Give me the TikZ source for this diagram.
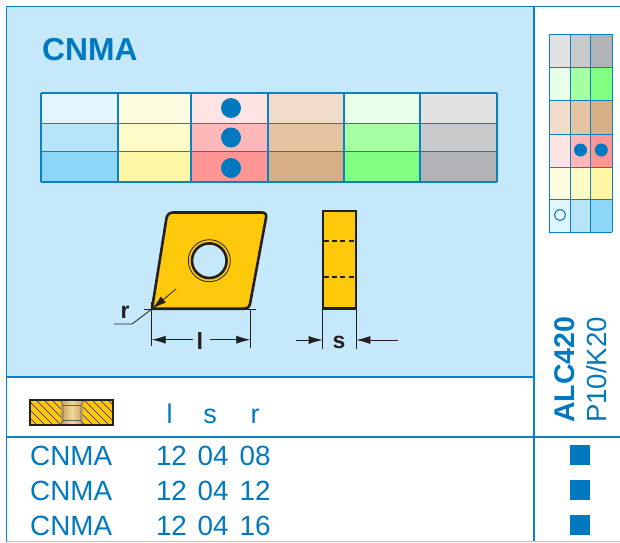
\documentclass[tikz,border=0pt]{standalone}
\usepackage{fontspec}
\setmainfont{Liberation Sans}
\usetikzlibrary{arrows.meta,patterns}
\definecolor{rule}{HTML}{0A80C8}
\definecolor{ink}{HTML}{0079C1}
\definecolor{panel}{HTML}{C5E9FA}
\definecolor{gold}{HTML}{FFC90B}
\definecolor{dark}{HTML}{231F20}
\definecolor{brassa}{HTML}{C9A05A}
\definecolor{brassb}{HTML}{F3D79E}
\tikzset{
  frameline/.style={draw=rule,line width=1.8pt},
  gridline/.style={draw=rule,line width=1.3pt},
  txt/.style={text=ink,font=\fontsize{27.8}{30}\selectfont,inner sep=0pt,anchor=base},
  head/.style={text=ink,font=\fontsize{27}{29}\selectfont,inner sep=0pt,anchor=base},
  blackline/.style={draw=dark,line width=2.6pt,line join=round},
  thin/.style={draw=dark,line width=.8pt},
  dimarrow/.style={draw=dark,line width=.8pt,-{Latex[length=14pt,width=8pt]}},
  dot/.style={circle,fill=ink,minimum size=20pt,inner sep=0pt},
  smalldot/.style={circle,fill=ink,minimum size=13pt,inner sep=0pt},
  sq/.style={fill=ink,minimum size=20pt,inner sep=0pt}
}
\begin{document}
\begin{tikzpicture}[x=1pt,y=-1pt]
\useasboundingbox (0,0) rectangle (620,542);
\fill[white] (0,0) rectangle (620,542);
\fill[panel] (7,7) rectangle (534,377);
% main colour table
\foreach \xa/\xb/\a/\b/\c in {41/118/E1F5FE/B8E4FA/8CD6F8,118/191/FFFDE0/FFFBC8/FFF6A5,191/268/FFE4E4/FFB8B8/FF9595,268/344/F0DCC8/E4C3A3/D6AF85,344/420/E8FFE8/A6FFA0/80FF80,420/497/E2E2E2/C8C9CB/B2B3B6}{
    \definecolor{ca}{HTML}{\a}\definecolor{cb}{HTML}{\b}\definecolor{cc}{HTML}{\c}
    \fill[ca] (\xa,93) rectangle (\xb,123.5);
    \fill[cb] (\xa,123.5) rectangle (\xb,151.5);
    \fill[cc] (\xa,151.5) rectangle (\xb,182);
}
\foreach \x in {41,118,191,268,344,420,497} \draw[gridline] (\x,93) -- (\x,182);
\foreach \y in {93,123.5,151.5,182} \draw[gridline] (41,\y) -- (497,\y);
\node[dot] (m1) at (231,108) {};
\node[dot] (m2) at (231,137.5) {};
\node[dot] (m3) at (231,168) {};
% side colour table
\foreach \ya/\yb/\a/\b/\c in {34/67/E2E2E2/C8C9CB/B2B3B6,67/100.5/E8FFE8/A6FFA0/80FF80,100.5/134/F0DCC8/E4C3A3/D6AF85,134/167/FFE4E4/FFB8B8/FF9595,167/199.5/FFFDE0/FFFBC8/FFF6A5,199.5/232/E1F5FE/B8E4FA/8CD6F8}{
  \definecolor{ca}{HTML}{\a}\definecolor{cb}{HTML}{\b}\definecolor{cc}{HTML}{\c}
  \fill[ca] (549,\ya) rectangle (570.5,\yb);
  \fill[cb] (570.5,\ya) rectangle (590.5,\yb);
  \fill[cc] (590.5,\ya) rectangle (612,\yb);
}
\foreach \x in {549,570.5,590.5,612} \draw[gridline,line width=.9pt] (\x,34) -- (\x,232);
\foreach \y in {34,67,100.5,134,167,199.5,232} \draw[gridline,line width=.9pt] (549,\y) -- (612,\y);
\node[smalldot] (s1) at (580.5,150) {};
\node[smalldot] (s2) at (601.3,150) {};
\node[circle,draw=ink,line width=1pt,minimum size=11pt,inner sep=0pt] (s3) at (560,215) {};
% frame
\draw[frameline] (6.5,542) -- (6.5,6.5) -- (620,6.5);
\draw[frameline] (534,6.5) -- (534,542);
\draw[frameline] (6.5,377) -- (534,377);
\draw[frameline] (6.5,437) -- (620,437);
\draw[draw=rule!40,line width=.8pt] (6.5,541.5) -- (620,541.5);
% title
\node[text=ink,font=\fontsize{31.8}{34}\bfseries\selectfont,inner sep=0pt,anchor=base west] (title) at (42,60.5) {CNMA};
% insert, top view
\draw[blackline,fill=gold] (173,212.5) -- (262,212.5) .. controls (265.5,212.5) and (266.8,215) .. (266,218) -- (250,304) .. controls (249,307.5) and (247,308.7) .. (244,308.7) -- (152,308.7) -- (166.5,218) .. controls (167.5,214.5) and (169.5,212.5) .. (173,212.5) -- cycle;
\draw[draw=dark,line width=.8pt] (209.3,260.7) circle (21);
\draw[draw=dark,line width=2.6pt,fill=panel] (209.3,260.7) circle (17.3);
% side view
\draw[draw=dark,line width=2.3pt,fill=gold] (323,211) rectangle (356,308.5);
\draw[draw=dark,line width=1.2pt,dash pattern=on 5pt off 3.2pt] (324,241) -- (355,241);
\draw[draw=dark,line width=1.2pt,dash pattern=on 5pt off 3.2pt] (324,277) -- (355,277);
% r dimension
\coordinate (rtip) at (152.5,308.5);
\coordinate (rtail) at (176,289);
\coordinate (rknee) at (132,324);
\coordinate (rend) at (114,324);
\draw[dimarrow] (rtail) -- (rtip);
\draw[thin] (rtip) -- (rknee) -- (rend);
\node[text=dark,font=\fontsize{23}{25}\bfseries\selectfont,inner sep=0pt,anchor=base] (rl) at (125,318.5) {r};
% l dimension
\coordinate (la) at (151.7,339.7);
\coordinate (lb) at (250.3,339.7);
\draw[thin] (144,309) -- (256,309);
\draw[thin] (151.7,302) -- (151.7,346);
\draw[thin] (250.3,309) -- (250.3,348);
\node[text=dark,font=\fontsize{23.5}{25}\bfseries\selectfont,inner sep=0pt,anchor=base] (ll) at (200,349) {l};
\draw[dimarrow] (193,339.7) -- (la);
\draw[dimarrow] (210,339.7) -- (lb);
% s dimension
\coordinate (sa) at (322.7,340);
\coordinate (sb) at (356.3,340);
\draw[thin] (322.7,309) -- (322.7,349);
\draw[thin] (356.3,309) -- (356.3,349);
\draw[dimarrow] (296,340) -- (sa);
\draw[dimarrow] (398,340) -- (sb);
\node[text=dark,font=\fontsize{23}{25}\bfseries\selectfont,inner sep=0pt,anchor=base] (sl) at (339,348) {s};
% section icon
\begin{scope}
\fill[gold] (30,400) rectangle (113,425);
\clip (30,400) rectangle (113,425);
\foreach \k in {-30,-22,...,130} \draw[dark,line width=.6pt] (\k,398) -- (\k+29,427);
\end{scope}
\shade[left color=brassa, right color=brassa, middle color=brassb] (61,400.5) rectangle (83,424.5);
\draw[dark!70,line width=.7pt] (60,400) .. controls (61.5,403) and (63,404) .. (63,406) -- (63,419) .. controls (63,421) and (62,423) .. (60,425);
\draw[dark!70,line width=.7pt] (84,400) .. controls (82.5,403) and (81,404) .. (81,406) -- (81,419) .. controls (81,421) and (82,423) .. (84,425);
\draw[dark!70,line width=.7pt] (63,405.5) -- (81,405.5) (63,420) -- (81,420);
\draw[draw=dark,line width=1.8pt] (30,400) rectangle (113,425);
% headers
\node[head] (hl) at (169.5,423) {l};
\node[head] (hs) at (210,423) {s};
\node[head] (hr) at (255,423) {r};
% rows
\foreach \y/\v [count=\n] in {465/08,500/12,535/16}{
  \node[txt,anchor=base west] (c\n) at (30,\y) {CNMA};
  \node[txt] (a\n) at (171.5,\y) {12};
  \node[txt] (b\n) at (213,\y) {04};
  \node[txt] (d\n) at (255,\y) {\v};
}
\node[sq] (q1) at (580,455) {};
\node[sq] (q2) at (580,490) {};
\node[sq] (q3) at (580,525) {};
% vertical heads
\node[text=ink,font=\fontsize{28.5}{30}\bfseries\selectfont,inner sep=0pt,anchor=base west,rotate=90] (alc) at (574,423) {ALC420};
\node[text=ink,font=\fontsize{27.6}{29}\selectfont,inner sep=0pt,anchor=base west,rotate=90] (pk) at (606.5,423) {P10/K20};
\end{tikzpicture}
\end{document}
